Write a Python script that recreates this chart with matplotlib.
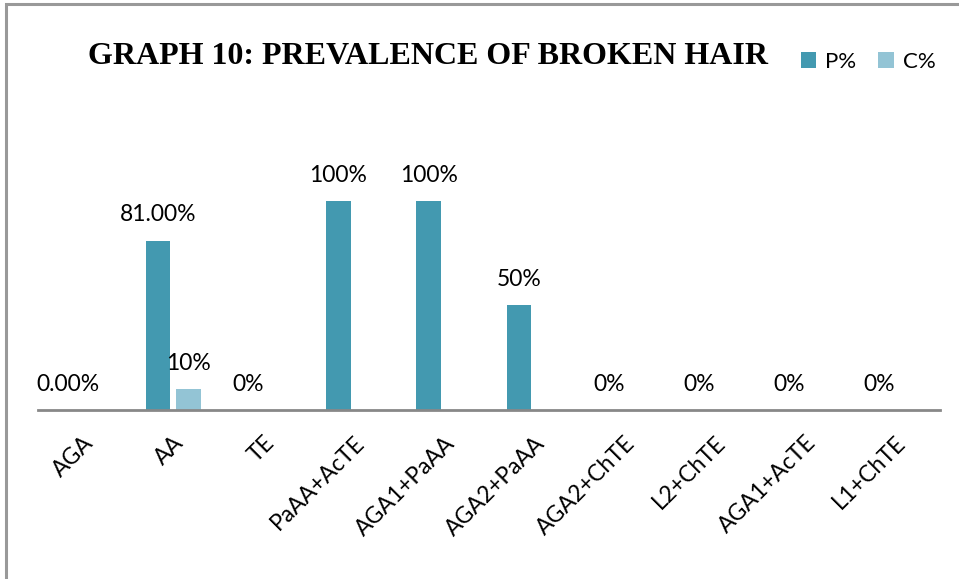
import numpy as np
import matplotlib.pyplot as plt
from matplotlib.patches import Rectangle

categories = ["AGA", "AA", "TE", "PaAA+AcTE", "AGA1+PaAA", "AGA2+PaAA",
              "AGA2+ChTE", "L2+ChTE", "AGA1+AcTE", "L1+ChTE"]
p_values = [0, 81, 0, 100, 100, 50, 0, 0, 0, 0]
p_labels = ["0.00%", "81.00%", "0%", "100%", "100%", "50%", "0%", "0%", "0%", "0%"]
c_values = [0, 10, 0, 0, 0, 0, 0, 0, 0, 0]
c_labels = ["", "10%", "", "", "", "", "", "", "", ""]

dark = "#4399B0"
light = "#93C4D5"

fig = plt.figure(figsize=(9.59, 5.79), dpi=100)
fig.patches.append(Rectangle((6 / 959, -0.01), 1.1, (579 - 4) / 579 + 0.01,
                             transform=fig.transFigure, fill=False,
                             edgecolor="#999999", linewidth=2.2))

ax = fig.add_axes([38 / 959, 169 / 579, 902 / 959, 310 / 579])
x = np.arange(len(categories))
w = 0.27
gap = 0.035
ax.bar(x - w / 2 - gap, p_values, w, color=dark, label="P%")
ax.bar(x + w / 2 + gap, c_values, w, color=light, label="C%")

for i in range(len(categories)):
    ax.annotate(p_labels[i], (x[i] - w / 2 - gap, p_values[i]), xytext=(0, 11),
                textcoords="offset points", ha="center", va="bottom",
                fontsize=16.5, family="Lato")
    if c_labels[i]:
        ax.annotate(c_labels[i], (x[i] + w / 2 + gap, c_values[i]), xytext=(0, 11),
                    textcoords="offset points", ha="center", va="bottom",
                    fontsize=16.5, family="Lato")

ax.set_xlim(-0.5, len(categories) - 0.5)
ax.set_ylim(0, 148.3)
for s in ["top", "right", "left"]:
    ax.spines[s].set_visible(False)
ax.spines["bottom"].set_color("#888888")
ax.spines["bottom"].set_linewidth(2)
ax.set_yticks([])
ax.set_xticks(x)
ax.set_xticklabels(categories, rotation=45, ha="right", rotation_mode="anchor",
                   fontsize=16.5, family="Lato")
ax.tick_params(axis="x", length=0, pad=16)

fig.text(428 / 959, 1 - 56 / 579, "GRAPH 10: PREVALENCE OF BROKEN HAIR",
         ha="center", va="center", fontsize=23, fontweight="bold",
         family="Liberation Serif")

fig.legend(loc="center", bbox_to_anchor=(868 / 959, 1 - 62 / 579), ncol=2,
           frameon=False, prop={"family": "Lato", "size": 16},
           handlelength=0.7, handleheight=0.7, handletextpad=0.4,
           columnspacing=1.0)

fig.savefig("out.png", dpi=100)
